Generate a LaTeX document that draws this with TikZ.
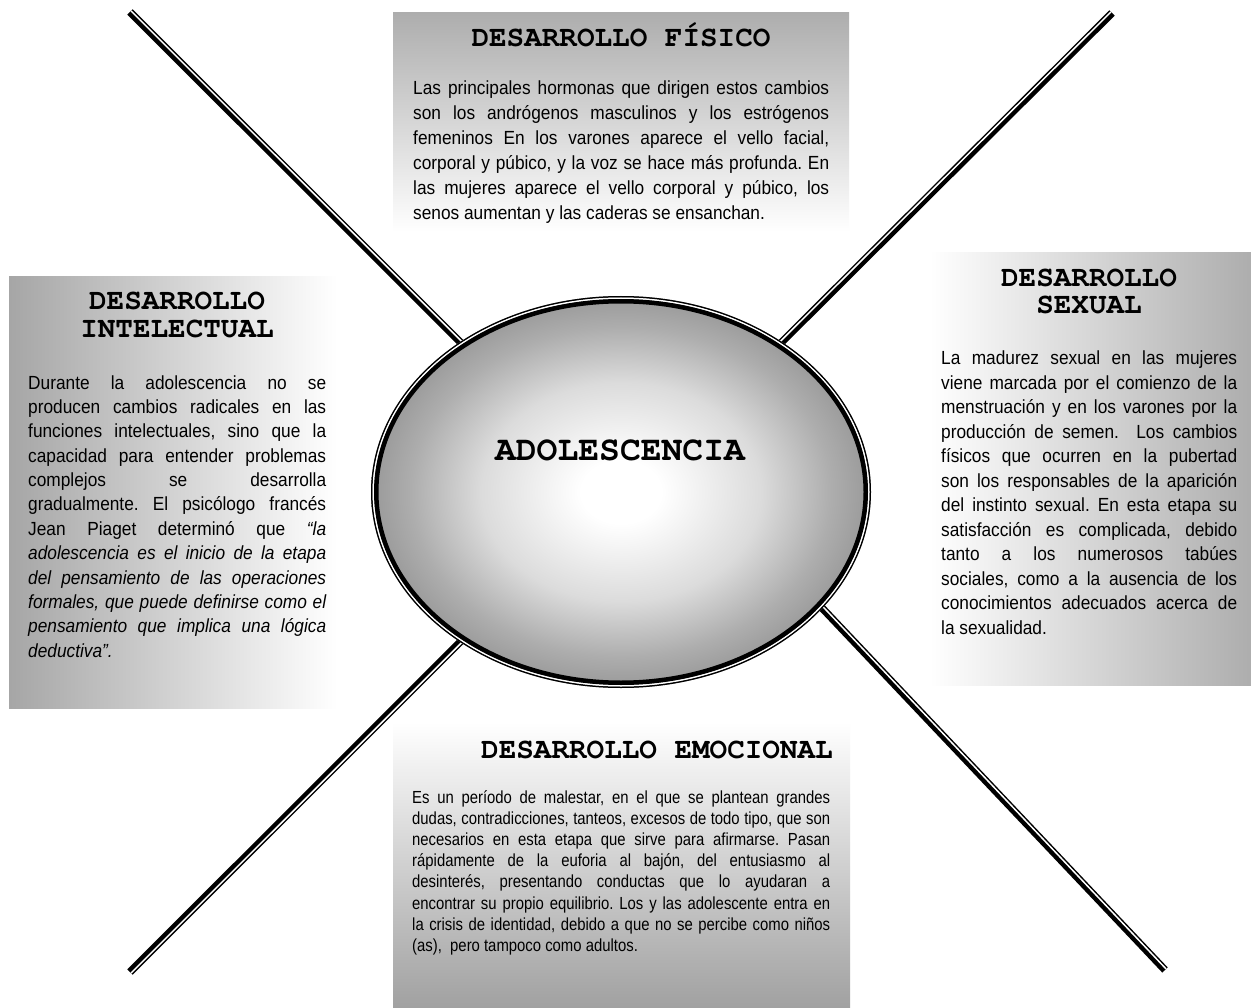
\documentclass[tikz,border=0pt]{standalone}
\usepackage{fontspec}
\setmainfont{Liberation Sans}
\newfontfamily\bodyA{Liberation Sans}[FakeStretch=0.91]
\newfontfamily\bodyB{Liberation Sans}[FakeStretch=0.85]
\newfontfamily\cursorfont{texgyrecursor-bold.otf}
\usetikzlibrary{shapes.geometric,calc,backgrounds}
\pgfdeclareradialshading{ellshade}{\pgfpoint{0bp}{0bp}}{color(0bp)=(white); color(4bp)=(white); color(14bp)=(black!14); color(21bp)=(black!32); color(25bp)=(black!40); color(50bp)=(black!40)}
\newcommand\txtsetup[2]{\fontsize{#1pt}{#2pt}\selectfont\frenchspacing\tolerance=10000\pretolerance=10000\hyphenpenalty=10000\hbadness=10000\relax}
\tikzset{
  panel/.style={rectangle, inner sep=0pt, outer sep=0pt},
  ttl/.style={anchor=base, inner sep=0pt, font=\cursorfont\fontsize{29.3pt}{29.3pt}\selectfont},
  bodytxt/.style={anchor=base west, inner sep=0pt},
  rail/.style={line width=7.5pt, black, shorten >=-8pt},
  railgap/.style={line width=1.5pt, white, shorten >=-8pt},
}
\begin{document}
\begin{tikzpicture}[x=1pt,y=-1pt]
\useasboundingbox (0,0) rectangle (1251,1008);
% central ellipse
\node[ellipse, shade, shading=ellshade, minimum width=500pt, minimum height=392pt, inner sep=0pt, outer sep=0pt] (ell) at (621,492) {};
\coordinate (tl) at (130,12);
\coordinate (tr) at (1112,13);
\coordinate (bl) at (130,972);
\coordinate (br) at (1165,970);
\begin{scope}[on background layer]
  \fill[white] (0,0) rectangle (1251,1008);
  \node[panel, top color=black!32, bottom color=white, minimum width=456pt, minimum height=219pt] (pf) at (621,122.5) {};
  \node[panel, left color=black!35, right color=white, minimum width=328pt, minimum height=431pt] (pi) at (173,492.5) {};
  \node[panel, left color=white, right color=black!32, minimum width=321pt, minimum height=432pt] (ps) at (1090.5,469) {};
  \node[panel, top color=white, bottom color=black!37, minimum width=457pt, minimum height=286pt] (pe) at (621.5,865) {};
  % double rails
  \draw[rail] (tl) -- (ell.137);
  \draw[railgap] ($(tl)!1.5pt!90:(ell.137)$) -- ($(ell.137)!1.5pt!-90:(tl)$);
  \draw[rail] (tr) -- (ell.43);
  \draw[railgap] ($(tr)!1.5pt!-90:(ell.43)$) -- ($(ell.43)!1.5pt!90:(tr)$);
  \draw[rail] (bl) -- (ell.223);
  \draw[railgap] ($(bl)!1.5pt!-90:(ell.223)$) -- ($(ell.223)!1.5pt!90:(bl)$);
  \draw[rail] (br) -- (ell.330);
  \draw[railgap] ($(br)!1.5pt!-90:(ell.330)$) -- ($(ell.330)!1.5pt!90:(br)$);
\end{scope}
% ellipse border: thin outer, white gap, thick inner
\draw[line width=1.5pt] (ell.center) ellipse [x radius=249.25pt, y radius=195.25pt];
\draw[white, line width=1.5pt] (ell.center) ellipse [x radius=247.75pt, y radius=193.75pt];
\draw[line width=4.5pt] (ell.center) ellipse [x radius=244.75pt, y radius=190.75pt];
\node[anchor=base, inner sep=0pt, font=\cursorfont\fontsize{34.7pt}{34.7pt}\selectfont] (adol) at (620,460) {ADOLESCENCIA};
% titles
\node[ttl] (tf) at (621,47) {DESARROLLO FÍSICO};
\node[ttl] (ti1) at (177,310) {DESARROLLO};
\node[ttl] (ti2) at (177,338) {INTELECTUAL};
\node[ttl] (ts1) at (1089,287) {DESARROLLO};
\node[ttl] (ts2) at (1089,314) {SEXUAL};
\node[ttl] (te) at (657,758) {DESARROLLO EMOCIONAL};
% bodies
\node[bodytxt] (bf) at (413,94.5) {\parbox[t]{416pt}{\bodyA\txtsetup{19}{25}Las principales hormonas que dirigen estos cambios\linebreak
son los andrógenos masculinos y los estrógenos\linebreak
femeninos En los varones aparece el vello facial,\linebreak
corporal y púbico, y la voz se hace más profunda. En\linebreak
las mujeres aparece el vello corporal y púbico, los\linebreak
senos aumentan y las caderas se ensanchan.}};
\node[bodytxt] (bi) at (28,389) {\parbox[t]{298pt}{\bodyA\txtsetup{19}{24.4}Durante la adolescencia no se\linebreak
producen cambios radicales en las\linebreak
funciones intelectuales, sino que la\linebreak
capacidad para entender problemas\linebreak
complejos se desarrolla\linebreak
gradualmente. El psicólogo francés\linebreak
Jean Piaget determinó que {\itshape “la\linebreak
adolescencia es el inicio de la etapa\linebreak
del pensamiento de las operaciones\linebreak
formales, que puede definirse como el\linebreak
pensamiento que implica una lógica\linebreak
deductiva”.}}};
\node[bodytxt] (bs) at (941,365) {\parbox[t]{296pt}{\bodyA\txtsetup{19}{24.5}La madurez sexual en las mujeres\linebreak
viene marcada por el comienzo de la\linebreak
menstruación y en los varones por la\linebreak
producción de semen.\ \ Los cambios\linebreak
físicos que ocurren en la pubertad\linebreak
son los responsables de la aparición\linebreak
del instinto sexual. En esta etapa su\linebreak
satisfacción es complicada, debido\linebreak
tanto a los numerosos tabúes\linebreak
sociales, como a la ausencia de los\linebreak
conocimientos adecuados acerca de\linebreak
la sexualidad.}};
\node[bodytxt] (be) at (412,803) {\parbox[t]{418pt}{\bodyB\txtsetup{17.5}{21.2}Es un período de malestar, en el que se plantean grandes\linebreak
dudas, contradicciones, tanteos, excesos de todo tipo, que son\linebreak
necesarios en esta etapa que sirve para afirmarse. Pasan\linebreak
rápidamente de la euforia al bajón, del entusiasmo al\linebreak
desinterés, presentando conductas que lo ayudaran a\linebreak
encontrar su propio equilibrio. Los y las adolescente entra en\linebreak
la crisis de identidad, debido a que no se percibe como niños\linebreak
(as),\ \ pero tampoco como adultos.}};
\end{tikzpicture}
\end{document}
